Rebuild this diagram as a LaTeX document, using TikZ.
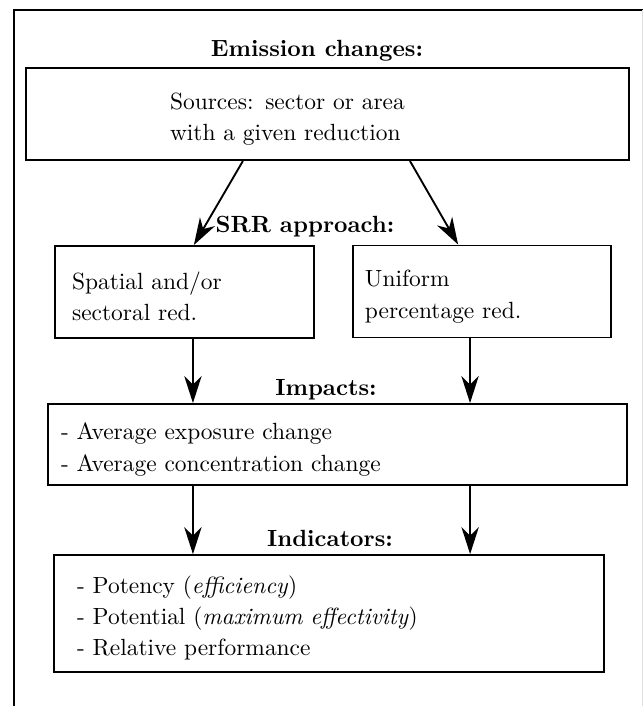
\documentclass[tikz,border=0pt]{standalone}
\usetikzlibrary{arrows.meta}

\tikzset{
  box/.style={draw, line width=0.8pt, align=left, inner ysep=0pt, font=\fontsize{10}{13.3}\selectfont,
    execute at begin node={\rule{0pt}{11.5pt}}},
  head/.style={font=\bfseries, anchor=base, inner sep=0pt},
  arr/.style={-{Stealth[length=11.5pt,width=7.4pt,inset=3.6pt]}, line width=0.8pt}
}

\begin{document}
\begin{tikzpicture}[x=0.015cm, y=-0.015cm]
\useasboundingbox (0,0) rectangle (643,706);
% frame
\draw[line width=0.8pt] (14,706) -- (14,10) -- (643,10);
\draw[gray!25, line width=0.4pt] (642,10) -- (642,706);

\node[head] (emis) at (317,56) {Emission changes:};
\node[box, minimum width=257.4pt, minimum height=39.3pt, text width=134.4pt, inner xsep=61.5pt] (src) at (327.5,114) {Sources: sector or area\\with a given reduction};

\node[head] (srr) at (305,232) {SRR approach:};
\node[box, minimum height=39.3pt, text width=96pt, inner xsep=7.3pt] (spat) at (184.5,292) {Spatial and/or\\sectoral red.};
\node[box, minimum height=39.3pt, text width=99.9pt, inner xsep=5.1pt] (unif) at (482,291.5) {Uniform\\percentage red.};

\node[head] (imp) at (326,395) {Impacts:};
\node[box, minimum height=34.6pt, text width=236pt, inner xsep=5.5pt] (impbox) at (337.5,444.5) {- Average exposure change\\- Average concentration change};

\node[head] (ind) at (330,546) {Indicators:};
\node[box, minimum height=49.9pt, text width=215pt, inner xsep=9.8pt] (indbox) at (329,613.5) {- Potency (\textit{efficiency})\\- Potential (\textit{maximum effectivity})\\- Relative performance};

% arrows
\draw[arr] ([xshift=-36.1pt]src.south) -- ([xshift=4pt]spat.north);
\draw[arr] ([xshift=35.2pt]src.south) -- ([xshift=-10.2pt]unif.north);
\draw[arr] ([xshift=3.6pt]spat.south) -- ([xshift=3.6pt]spat.south |- impbox.north);
\draw[arr] ([xshift=-5.1pt]unif.south) -- ([xshift=-5.1pt]unif.south |- impbox.north);
\draw[arr] ([xshift=-61.7pt]impbox.south) -- ([xshift=-61.7pt]impbox.south |- indbox.north);
\draw[arr] ([xshift=56.6pt]impbox.south) -- ([xshift=56.6pt]impbox.south |- indbox.north);
\end{tikzpicture}
\end{document}
